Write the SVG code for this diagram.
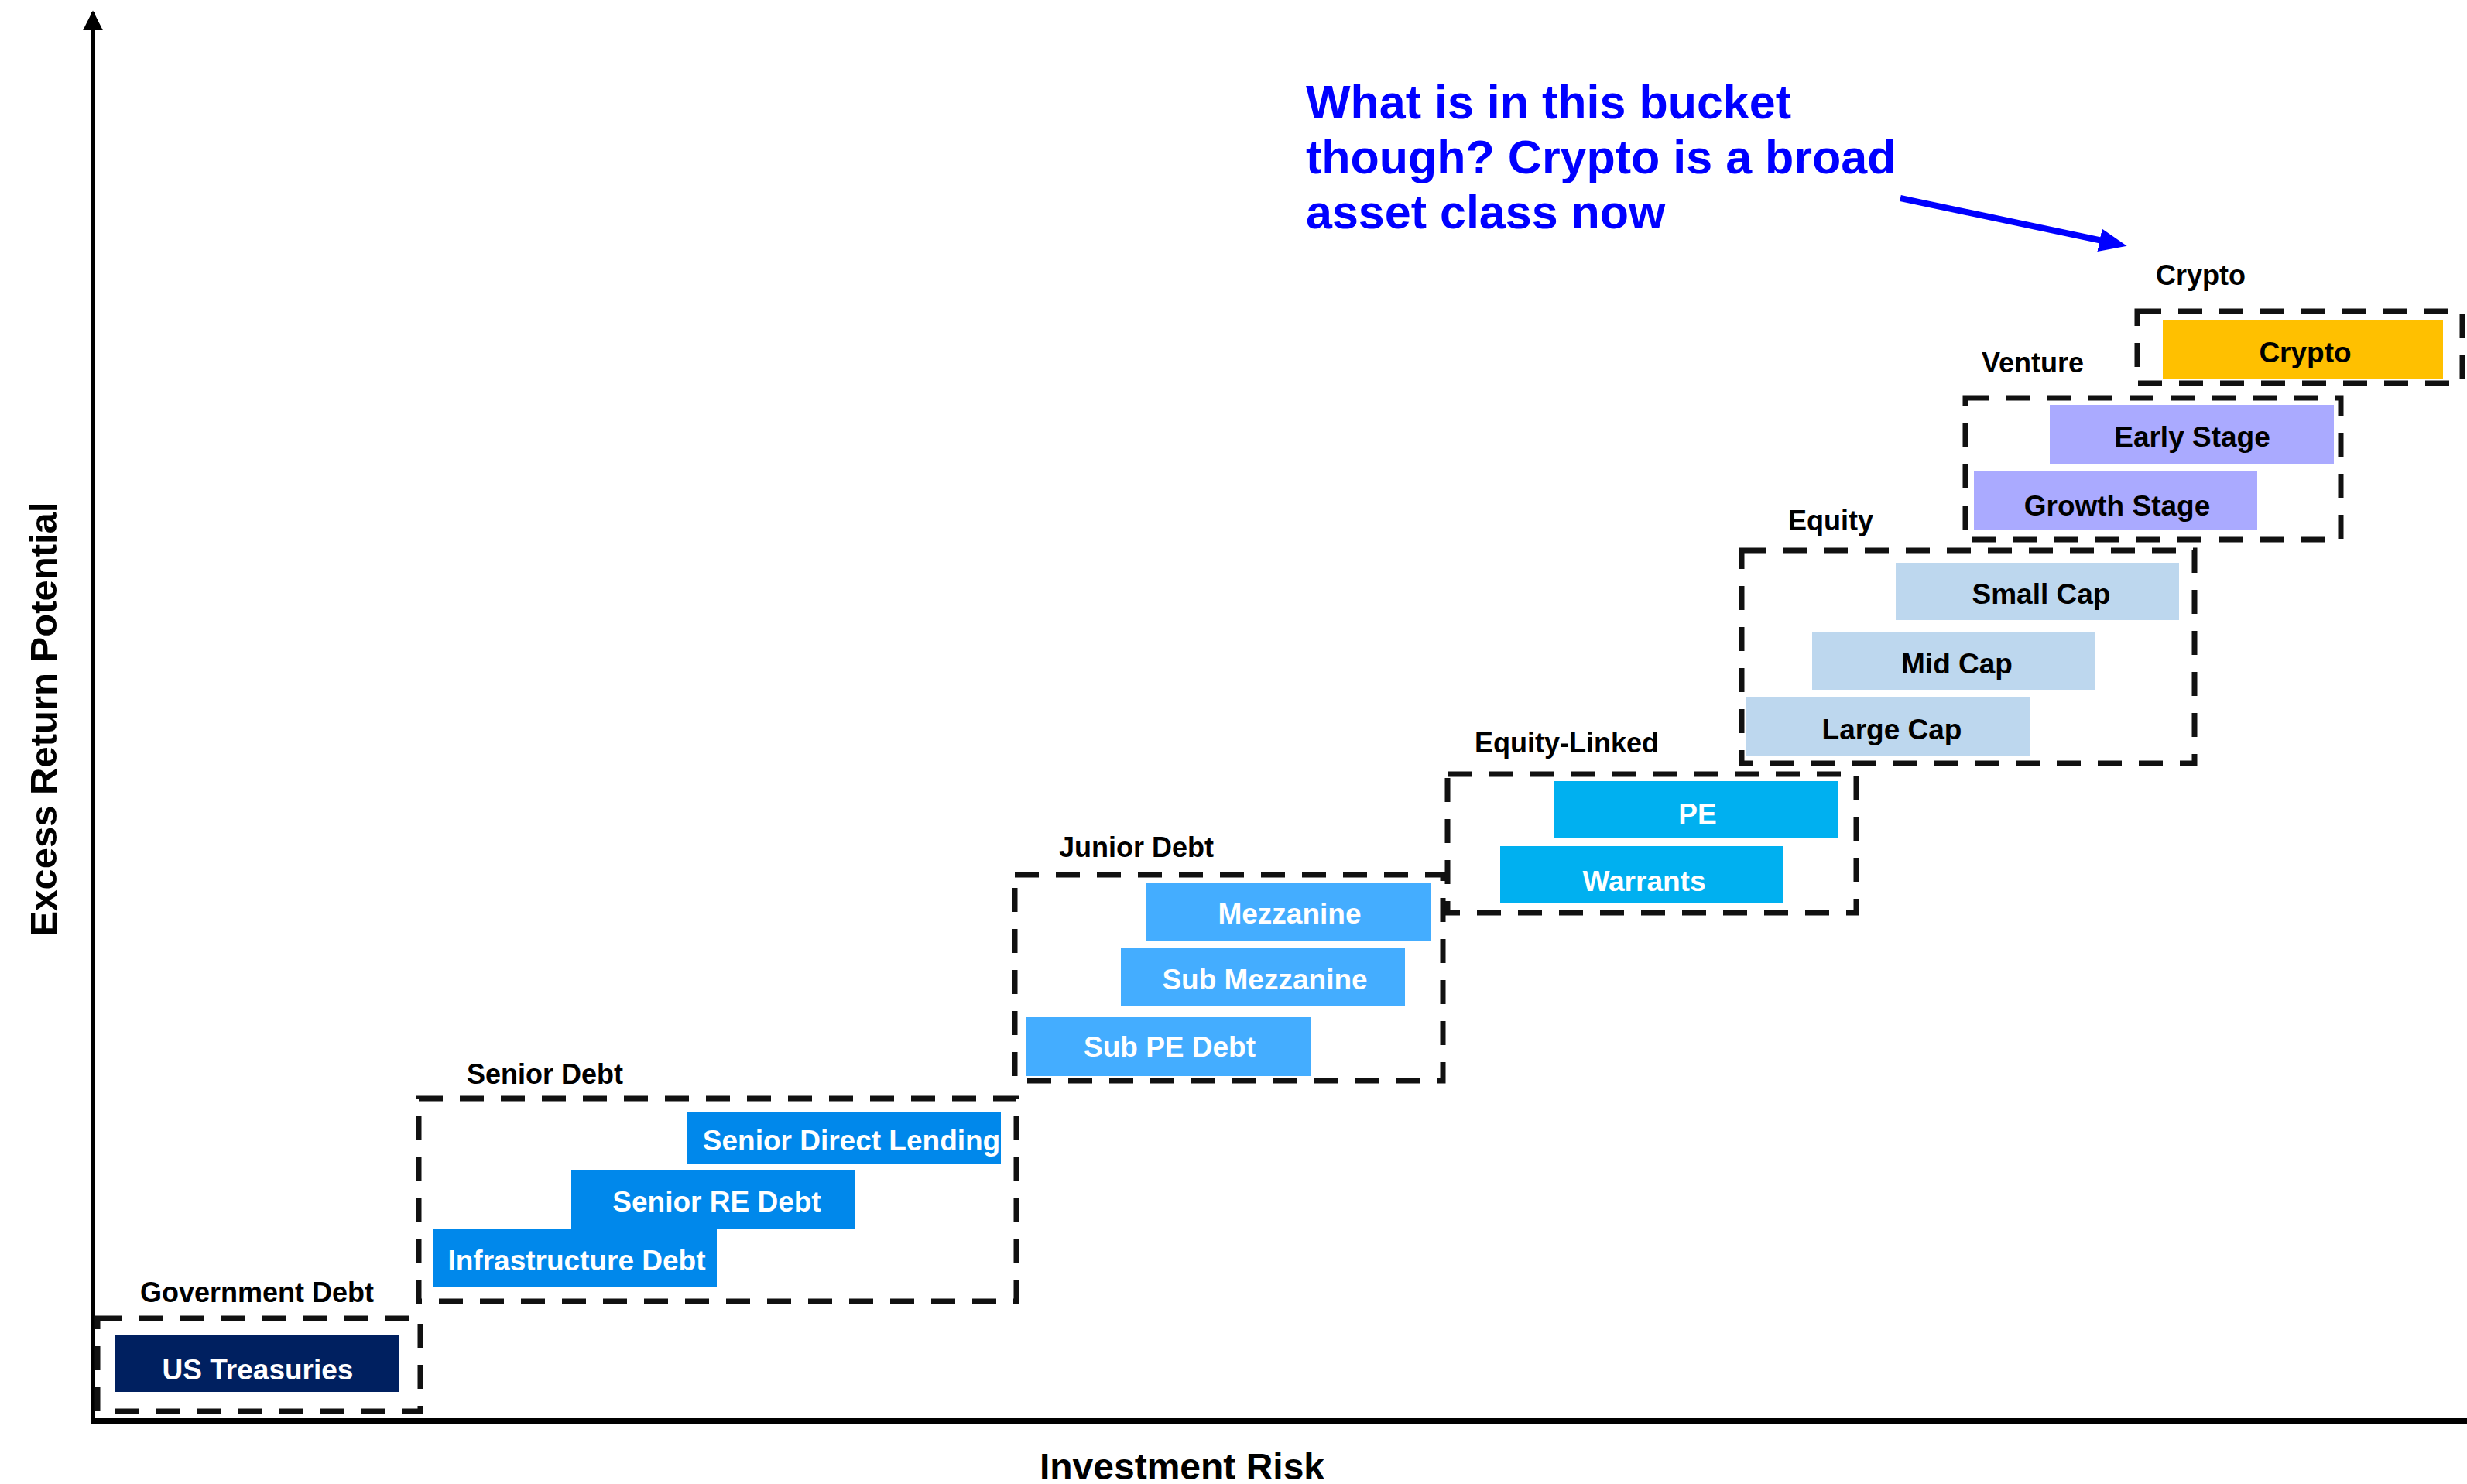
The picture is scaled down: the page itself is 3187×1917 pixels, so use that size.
<svg xmlns="http://www.w3.org/2000/svg" width="3187" height="1917" viewBox="0 0 3187 1917">
<style>
text{font-family:"Liberation Sans",Arial,sans-serif;font-weight:bold}
.grp{fill:none;stroke:#111;stroke-width:7;stroke-dasharray:31 22}
.lbl{font-size:36px;fill:#000}
.t{font-size:37px;text-anchor:middle}
.w{fill:#fff}
.k{fill:#000}
.axis{stroke:#000;fill:none}
.navy{fill:#002060}
.sen{fill:#0088EB}
.jun{fill:#44ADFF}
.eql{fill:#00B0F0}
.eq{fill:#BDD7EE}
.ven{fill:#AAAAFF}
.cry{fill:#FFC000}
.note{font-size:61px;fill:#0000FF}
</style>
<defs>
<marker id="ahY" markerUnits="userSpaceOnUse" viewBox="0 0 10 10" refX="9" refY="5" markerWidth="26" markerHeight="26" orient="auto"><path d="M0,0 L10,5 L0,10 z" fill="#000"/></marker>
<marker id="ahB" markerUnits="userSpaceOnUse" viewBox="0 0 10 10" refX="1" refY="5" markerWidth="36" markerHeight="30" orient="auto" preserveAspectRatio="none"><path d="M0,0 L10,5 L0,10 z" fill="#0000FF"/></marker>
<clipPath id="clipSDL"><rect x="888" y="1437" width="405" height="67"/></clipPath>
</defs>
<rect width="3187" height="1917" fill="#fff"/>

<g id="axes">
<line class="axis" x1="120" y1="1840" x2="120" y2="16" stroke-width="6" marker-end="url(#ahY)"/>
<line class="axis" x1="117" y1="1836" x2="3187" y2="1836" stroke-width="8"/>
<text x="1527" y="1911" font-size="48" text-anchor="middle" fill="#000">Investment Risk</text>
<text transform="translate(73,929) rotate(-90)" font-size="49" text-anchor="middle" fill="#000">Excess Return Potential</text>
</g>

<g id="government-debt">
<text class="lbl" x="181" y="1682">Government Debt</text>
<rect class="grp" x="126" y="1703" width="417" height="120"/>
<g id="us-treasuries"><rect class="navy" x="149" y="1724" width="367" height="74"/><text class="t w" x="333" y="1782">US Treasuries</text></g>
</g>

<g id="senior-debt">
<text class="lbl" x="603" y="1400">Senior Debt</text>
<rect class="grp" x="541" y="1419" width="772" height="262"/>
<g id="senior-direct-lending"><rect class="sen" x="888" y="1437" width="405" height="67"/><text class="t w" x="1100" y="1486" clip-path="url(#clipSDL)">Senior Direct Lending</text></g>
<g id="senior-re-debt"><rect class="sen" x="738" y="1512" width="366" height="75"/><text class="t w" x="926" y="1565">Senior RE Debt</text></g>
<g id="infrastructure-debt"><rect class="sen" x="559" y="1587" width="367" height="76"/><text class="t w" x="745" y="1641">Infrastructure Debt</text></g>
</g>

<g id="junior-debt">
<text class="lbl" x="1368" y="1107">Junior Debt</text>
<rect class="grp" x="1311" y="1130" width="553" height="266"/>
<g id="mezzanine"><rect class="jun" x="1481" y="1140" width="367" height="75"/><text class="t w" x="1666" y="1193">Mezzanine</text></g>
<g id="sub-mezzanine"><rect class="jun" x="1448" y="1225" width="367" height="75"/><text class="t w" x="1634" y="1278">Sub Mezzanine</text></g>
<g id="sub-pe-debt"><rect class="jun" x="1326" y="1314" width="367" height="76"/><text class="t w" x="1511" y="1365">Sub PE Debt</text></g>
</g>

<g id="equity-linked">
<text class="lbl" x="1905" y="972">Equity-Linked</text>
<rect class="grp" x="1870" y="1000" width="528" height="179"/>
<g id="pe"><rect class="eql" x="2008" y="1009" width="366" height="74"/><text class="t w" x="2193" y="1064">PE</text></g>
<g id="warrants"><rect class="eql" x="1938" y="1093" width="366" height="74"/><text class="t w" x="2124" y="1151">Warrants</text></g>
</g>

<g id="equity">
<text class="lbl" x="2310" y="685">Equity</text>
<rect class="grp" x="2250" y="711" width="585" height="275"/>
<g id="small-cap"><rect class="eq" x="2449" y="727" width="366" height="74"/><text class="t k" x="2637" y="780">Small Cap</text></g>
<g id="mid-cap"><rect class="eq" x="2341" y="816" width="366" height="75"/><text class="t k" x="2528" y="870">Mid Cap</text></g>
<g id="large-cap"><rect class="eq" x="2256" y="901" width="366" height="75"/><text class="t k" x="2444" y="955">Large Cap</text></g>
</g>

<g id="venture">
<text class="lbl" x="2560" y="481">Venture</text>
<rect class="grp" x="2539" y="514" width="485" height="183"/>
<g id="early-stage"><rect class="ven" x="2648" y="523" width="367" height="76"/><text class="t k" x="2832" y="577">Early Stage</text></g>
<g id="growth-stage"><rect class="ven" x="2550" y="609" width="366" height="75"/><text class="t k" x="2735" y="666">Growth Stage</text></g>
</g>

<g id="crypto">
<text class="lbl" x="2785" y="368">Crypto</text>
<rect class="grp" x="2761" y="402" width="420" height="93"/>
<g id="crypto-item"><rect class="cry" x="2794" y="414" width="362" height="76"/><text class="t k" x="2978" y="468">Crypto</text></g>
</g>

<g id="annotation">
<text class="note" x="1687" y="153">What is in this bucket</text>
<text class="note" x="1687" y="224">though? Crypto is a broad</text>
<text class="note" x="1687" y="295">asset class now</text>
</g>

<g id="connectors">
<line x1="2455" y1="256" x2="2716" y2="311" stroke="#0000FF" stroke-width="8" marker-end="url(#ahB)"/>
</g>
</svg>
